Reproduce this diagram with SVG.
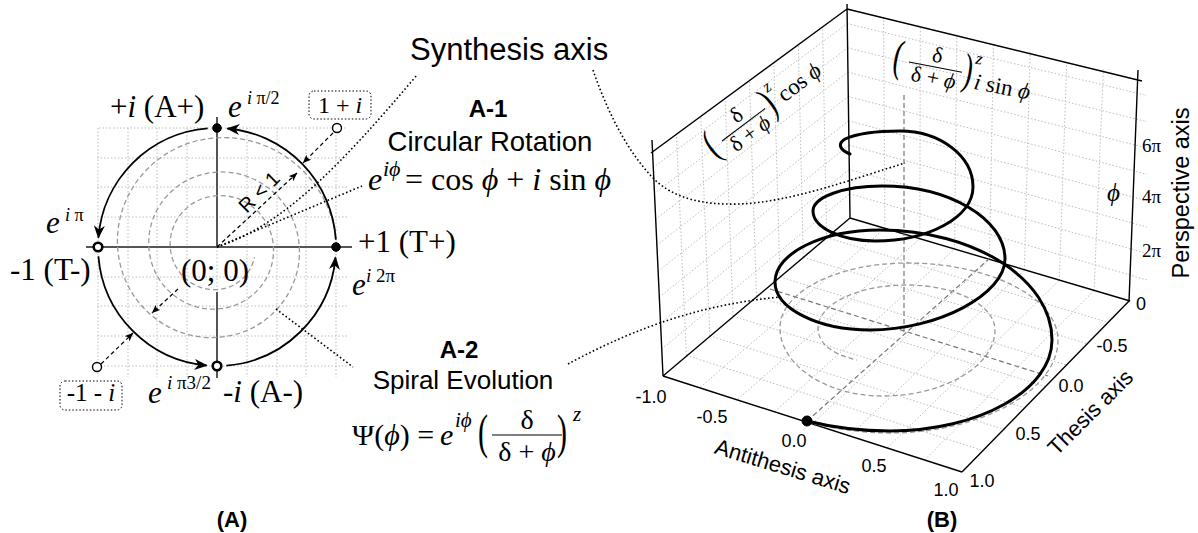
<svg xmlns="http://www.w3.org/2000/svg" width="1198" height="533" viewBox="0 0 1198 533">
<defs>
<style>
.serif{font-family:"Liberation Serif","Times New Roman","DejaVu Serif",serif;fill:#000}
.sans{font-family:"Liberation Sans",Arial,sans-serif;fill:#000}
.it{font-style:italic}
.b{font-weight:bold}
.grid{stroke:#bdbdbd;stroke-width:1;stroke-dasharray:1.5 2;fill:none}
.dot{stroke:#000;stroke-width:1.6;stroke-dasharray:1.6 2.4;fill:none}
.spd{stroke:#9a9a9a;stroke-width:1.3;stroke-dasharray:5 3;fill:none}
.axd{stroke:#777;stroke-width:1.2;stroke-dasharray:5 3;fill:none}
.edge{stroke:#000;stroke-width:1.4;fill:none}
.axis{stroke:#555;stroke-width:2;fill:none}
.arc{stroke:#000;stroke-width:1.8;fill:none;marker-end:url(#ah)}
.darr{stroke:#000;stroke-width:1.2;stroke-dasharray:4 3;fill:none;marker-end:url(#ahs)}
.lbox{fill:#fff;stroke:#000;stroke-width:1;stroke-dasharray:1.5 2}
.fill{fill:#000;stroke:#000;stroke-width:1}
.open{fill:#fff;stroke:#000;stroke-width:2.6}
.thin{fill:#fff;stroke:#000;stroke-width:1.4}
.spiral{stroke:#000;stroke-width:3;fill:none;stroke-linecap:round}
</style>
<marker id="ah" viewBox="0 0 12 10" refX="11" refY="5" markerWidth="14" markerHeight="11" markerUnits="userSpaceOnUse" orient="auto"><path d="M0,0 L12,5 L0,10 L3.5,5 z" fill="#000"/></marker>
<marker id="ahs" viewBox="0 0 10 8" refX="9.5" refY="4" markerWidth="9" markerHeight="7" markerUnits="userSpaceOnUse" orient="auto"><path d="M0,0 L10,4 L0,8 L2.5,4 z" fill="#000"/></marker>
</defs>
<rect x="0" y="0" width="1198" height="533" fill="#fff"/>

<!-- Panel A background -->
<g id="panelA-grid">
<path class="grid" d="M98,128V377 M128,128V377 M157,128V377 M187,128V377 M217,128V377 M247,128V377 M277,128V377 M306,128V377 M336,128V377 M99,128H347 M97,158H347 M97,187H347 M97,217H347 M97,277H347 M97,306H347 M97,336H347 M97,366H347"/>
<path class="axis" d="M86,247H352 M217,117V247 M217,292V378"/>
<path class="spd" d="M337,247 C333.02,180.72 277.32,134.17 217,137.79 C156.68,141.41 114.32,192.11 117.61,247 C120.9,301.89 167.05,340.45 217,337.45 C266.95,334.45 302.04,292.46 299.31,247 C296.58,201.54 258.37,169.61 217,172.09 C175.63,174.57 146.57,209.35 148.83,247 C151.09,284.65 182.74,311.1 217,309.04 C251.26,306.98 275.33,278.18 273.46,247 C271.59,215.82 245.38,193.92 217,195.62 C188.62,197.32 168.69,221.17 170.24,247 C171.79,272.83 193.49,290.97 217,289.56 C240.51,288.15 252,270 254.5,257"/>
</g>

<!-- Panel B background -->
<g id="panelB-grid">
<path class="grid" d="M686.4,355.4L676.4,134.1 M709.8,335.8L700.8,116.3 M733.1,316.1L725.1,98.4 M756.5,296.5L749.5,80.5 M779.9,276.9L773.9,62.6 M803.3,257.3L798.3,44.8 M826.6,237.6L822.6,26.9
M661.7,349.1L849.7,193.7 M660.4,323.1L849.3,169.4 M659.2,297.2L849,145.1 M657.9,271.3L848.6,120.8 M656.6,245.3L848.3,96.5 M655.3,219.4L847.9,72.2 M654,193.5L847.6,47.9 M652.8,167.6L847.2,23.6
M884.9,228.4L883.6,17.6 M919.8,238.8L920.3,26.3 M954.6,249.1L956.9,34.9 M989.5,259.5L993.5,43.5 M1024.4,269.9L1030.1,52.1 M1059.3,280.3L1066.8,60.8 M1094.1,290.6L1103.4,69.4
M849.7,193.7L1147,279.9 M849.3,169.4L1147,253.4 M849,145.1L1147,227.1 M848.6,120.8L1147,200.8 M848.3,96.5L1147,174.3 M847.9,72.2L1147,148 M847.6,47.9L1147,121.7 M847.2,23.6L1147,95.5
M686.4,355.4L982.9,450.6 M709.8,335.8L1003.8,429.3 M733.1,316.1L1024.6,407.9 M756.5,296.5L1045.5,386.5 M779.9,276.9L1066.4,365.1 M803.3,257.3L1087.3,343.8 M826.6,237.6L1108.1,322.4
M700.4,387.1L884.9,228.4 M737.8,399.3L919.8,238.8 M775.1,411.4L954.6,249.1 M812.5,423.5L989.5,259.5 M849.9,435.6L1024.4,269.9 M887.3,447.8L1059.3,280.3 M924.6,459.9L1094.1,290.6"/>
<path class="edge" d="M652,140L663,376 M651,153L847,9 M847,4L850,218 M847,9L1142,81 M1138,70L1129,302 M850,218L663,376 M850,218L1130,301 M663,376L962,472 M962,472L1130,300"/>
<path class="axd" d="M904,95L904,333 M807,421L990,258 M770,289L1048,376"/>
<path class="spd" d="M807,422 C835,429 862,433 890,433 C980,433 1058,391 1058,340 C1058,298 990,263 907,263 C837,263 780,292 780,328 C780,365 826,396 882,396 C944,396 995,366 995,330 C995,305 955,285 907,285 C858,285 818,304 818,328 C818,345 835,355 857,360"/>
</g>

<!-- Connectors -->
<g id="connectors">
<path class="arc" d="M335.8,239.7 A119,119 0 0 0 227.4,128.5"/>
<path class="arc" d="M207.7,128.4 A119,119 0 0 0 98.4,237.7"/>
<path class="arc" d="M98.4,256.3 A119,119 0 0 0 206.6,365.5"/>
<path class="arc" d="M226.3,365.6 A119,119 0 0 0 335.5,257.4"/>
<path class="darr" d="M333,133 L303,163"/>
<path class="darr" d="M101,364 L133,333"/>
<path class="darr" d="M217,247 L297,173"/>
<path class="darr" d="M178,289 L152,313"/>
<path class="dot" d="M217,247 L362,186"/>
<path class="dot" d="M217,247 C285,225 345,160 417,75"/>
<path class="dot" d="M276,309 L353,367"/>
<path class="dot" d="M568,364 C620,336 690,305 781,297"/>
<path class="dot" d="M593,70 C605,105 625,150 655,180 C675,198 700,205 740,204 C790,202 850,180 905,163"/>
</g>

<!-- Panel A nodes -->
<g id="node-plus-i">
<circle class="fill" cx="217" cy="128" r="4.3"/>
<text class="serif" font-size="31" x="110" y="117">+<tspan class="it">i</tspan> (A+)</text>
<text class="serif it" font-size="31" x="228" y="117">e</text>
<text class="serif" font-size="18" x="247" y="104"><tspan class="it">i</tspan> π/2</text>
</g>
<g id="node-minus-1">
<circle class="open" cx="98" cy="247" r="4.3"/>
<text class="serif it" font-size="31" x="46" y="233">e</text>
<text class="serif" font-size="18" x="65" y="221"><tspan class="it">i</tspan> π</text>
<text class="serif" font-size="31" x="10" y="280">-1 (T-)</text>
</g>
<g id="node-plus-1">
<circle class="fill" cx="336" cy="247" r="4.3"/>
<text class="serif" font-size="31" x="358" y="252">+1 (T+)</text>
<text class="serif it" font-size="31" x="352" y="295">e</text>
<text class="serif" font-size="19" x="366" y="282"><tspan class="it">i</tspan> 2π</text>
</g>
<g id="node-minus-i">
<circle class="open" cx="217" cy="366" r="4.3"/>
<text class="serif it" font-size="31" x="148" y="403">e</text>
<text class="serif" font-size="19" x="167" y="389"><tspan class="it">i</tspan> π3/2</text>
<text class="serif" font-size="31" x="223" y="402">-<tspan class="it">i</tspan> (A-)</text>
</g>
<g id="node-origin">
<text class="serif" font-size="31" x="215" y="281" text-anchor="middle">(0; 0)</text>
<text class="sans" font-size="20" transform="translate(259,192) rotate(-45)" x="0" y="7" text-anchor="middle">R &lt; 1</text>
</g>
<g id="node-1pi">
<circle class="thin" cx="337" cy="128" r="4.5"/>
<rect class="lbox" x="309" y="91" width="62" height="28" rx="5"/>
<text class="serif" font-size="24" x="340" y="113" text-anchor="middle">1 + <tspan class="it">i</tspan></text>
</g>
<g id="node-m1mi">
<circle class="thin" cx="97" cy="367" r="4.5"/>
<rect class="lbox" x="60" y="381" width="62" height="29" rx="5"/>
<text class="serif" font-size="25" x="91" y="401" text-anchor="middle">-1 - <tspan class="it">i</tspan></text>
</g>
<g id="label-A">
<text class="sans b" font-size="22" x="232" y="527" text-anchor="middle">(A)</text>
</g>

<!-- Middle labels -->
<g id="node-synthesis">
<text class="sans" font-size="31" x="410" y="60">Synthesis axis</text>
</g>
<g id="node-A1">
<text class="sans b" font-size="24" x="488" y="117" text-anchor="middle">A-1</text>
<text class="sans" font-size="27.5" x="490" y="151" text-anchor="middle">Circular Rotation</text>
<text class="serif it" font-size="32" x="368" y="190">e</text>
<text class="serif it" font-size="22" x="383" y="176">iϕ</text>
<text class="serif" font-size="32" x="405" y="190">= cos <tspan class="it">ϕ</tspan> + <tspan class="it">i</tspan> sin <tspan class="it">ϕ</tspan></text>
</g>
<g id="node-A2">
<text class="sans b" font-size="24" x="459" y="358" text-anchor="middle">A-2</text>
<text class="sans" font-size="26" x="463" y="389" text-anchor="middle">Spiral Evolution</text>
<text class="serif" font-size="30" x="352" y="445">Ψ(<tspan class="it">ϕ</tspan>) =</text>
<text class="serif it" font-size="30" x="440" y="445">e</text>
<text class="serif it" font-size="21" x="455" y="427">iϕ</text>
<text class="serif" font-size="30" transform="translate(478,448) scale(1,1.65)">(</text>
<text class="serif" font-size="28" x="527" y="429" text-anchor="middle">δ</text>
<line x1="492" y1="435" x2="562" y2="435" stroke="#000" stroke-width="1.2"/>
<text class="serif" font-size="28" x="527" y="461" text-anchor="middle">δ + <tspan class="it">ϕ</tspan></text>
<text class="serif" font-size="30" transform="translate(557,448) scale(1,1.65)">)</text>
<text class="serif it" font-size="21" x="573" y="421">z</text>
</g>

<!-- Panel B nodes -->
<g id="node-spiral3d">
<path class="spiral" d="M807,421 C835,428 862,431 890,431 C979,431 1052,390 1052,340 C1052,279.5 974.6,230 880,230 C822,230 775,253.4 775,282 C775,308.4 817.75,330 870,330 C937.5,330 1005,294.5 1005,259 C1005,219 949.6,186 882,186 C844,186 813,197 813,211 C813,227.5 841,241 875,241 C929,241 973,217 973,187 C973,156 940,131 900,131 C878,131 856,134 845,139 C837,144 840,150 850,154"/>
<circle class="fill" cx="807" cy="421" r="5"/>
</g>
<g id="node-cos-label" transform="translate(722,141) rotate(-37)">
<text class="serif" font-size="28" transform="translate(-16,10) scale(1,1.5)">(</text>
<text class="serif" font-size="22" x="27" y="-5" text-anchor="middle">δ</text>
<line x1="0" y1="0" x2="54" y2="0" stroke="#000" stroke-width="1"/>
<text class="serif" font-size="22" x="27" y="18" text-anchor="middle">δ + <tspan class="it">ϕ</tspan></text>
<text class="serif" font-size="28" transform="translate(55,10) scale(1,1.5)">)</text>
<text class="serif it" font-size="17" x="65" y="-11">z</text>
<text class="serif" font-size="23" x="73" y="7">cos <tspan class="it">ϕ</tspan></text>
</g>
<g id="node-sin-label" transform="translate(909,62) rotate(11)">
<text class="serif" font-size="28" transform="translate(-16,11) scale(1,1.6)">(</text>
<text class="serif" font-size="22" x="27" y="-5" text-anchor="middle">δ</text>
<line x1="0" y1="0" x2="54" y2="0" stroke="#000" stroke-width="1"/>
<text class="serif" font-size="22" x="27" y="18" text-anchor="middle">δ + <tspan class="it">ϕ</tspan></text>
<text class="serif" font-size="28" transform="translate(55,11) scale(1,1.6)">)</text>
<text class="serif it" font-size="17" x="65" y="-11">z</text>
<text class="serif" font-size="23" x="68" y="14"><tspan class="it">i</tspan> sin <tspan class="it">ϕ</tspan></text>
</g>
<g id="axis-perspective">
<text class="serif" font-size="19" x="1142" y="257">2π</text>
<text class="serif" font-size="19" x="1142" y="203">4π</text>
<text class="serif" font-size="19" x="1142" y="152">6π</text>
<text class="sans" font-size="18" x="1136" y="310">0</text>
<text class="serif it" font-size="25" x="1107" y="201">ϕ</text>
<text class="sans" font-size="23.5" transform="translate(1181,193) rotate(-90)" x="0" y="8" text-anchor="middle">Perspective axis</text>
</g>
<g id="axis-antithesis">
<text class="sans" font-size="18" x="651" y="403" text-anchor="middle">-1.0</text>
<text class="sans" font-size="18" x="712" y="423" text-anchor="middle">-0.5</text>
<text class="sans" font-size="18" x="794" y="447" text-anchor="middle">0.0</text>
<text class="sans" font-size="18" x="874" y="472" text-anchor="middle">0.5</text>
<text class="sans" font-size="18" x="946" y="496" text-anchor="middle">1.0</text>
<text class="sans" font-size="22" transform="translate(783,466) rotate(17)" x="0" y="8" text-anchor="middle">Antithesis axis</text>
</g>
<g id="axis-thesis">
<text class="sans" font-size="18" x="982" y="487" text-anchor="middle">1.0</text>
<text class="sans" font-size="18" x="1028" y="440" text-anchor="middle">0.5</text>
<text class="sans" font-size="18" x="1071" y="392" text-anchor="middle">0.0</text>
<text class="sans" font-size="18" x="1112" y="352" text-anchor="middle">-0.5</text>
<text class="sans" font-size="22" transform="translate(1090,412) rotate(-45)" x="0" y="8" text-anchor="middle">Thesis axis</text>
</g>
<g id="label-B">
<text class="sans b" font-size="22" x="942" y="527" text-anchor="middle">(B)</text>
</g>
</svg>
